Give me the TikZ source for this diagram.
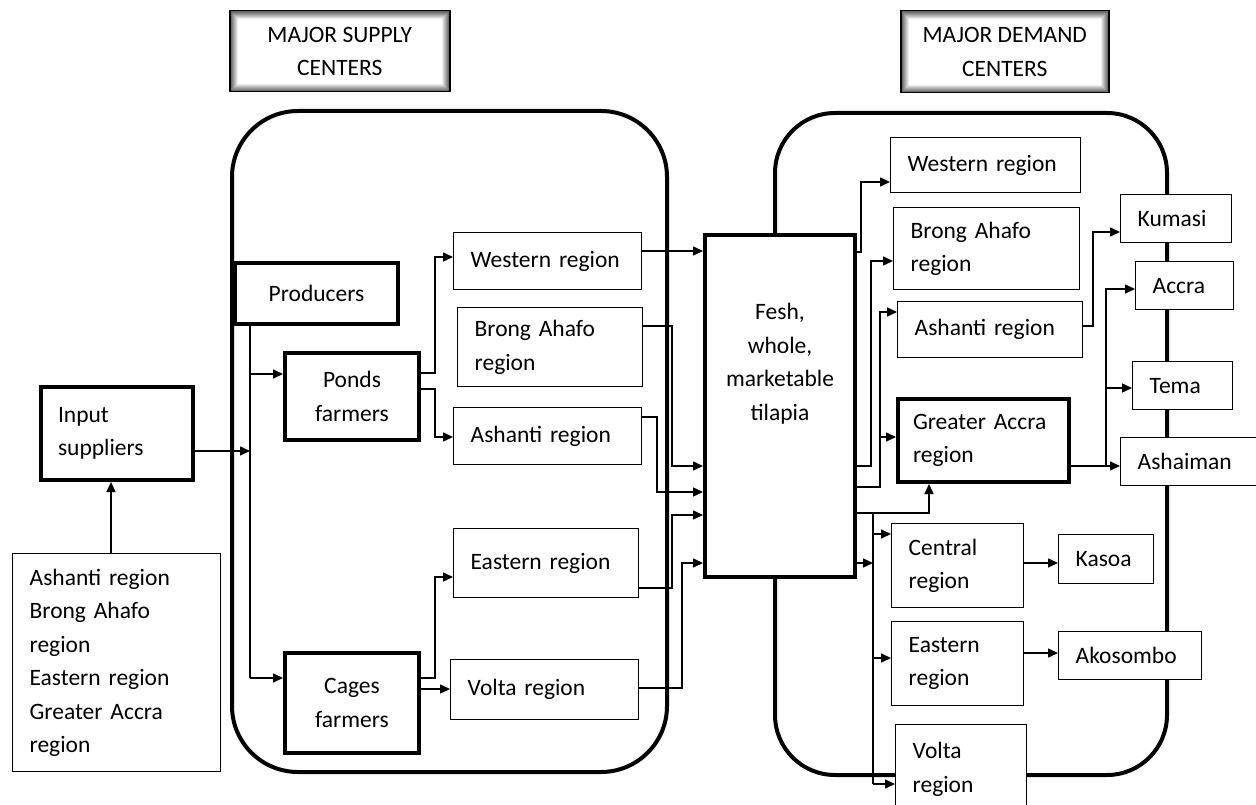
\documentclass[tikz,border=0pt]{standalone}
\usepackage{fontspec}
\setmainfont{Carlito}
\usetikzlibrary{arrows.meta,positioning}

\begin{document}
\begin{tikzpicture}[x=1pt,y=-1pt,>={Triangle[length=10pt,width=9pt]},
    font=\fontsize{23.5}{33.5}\selectfont,
    place/.style={draw,fill=white,line width=1.3pt,anchor=north west,align=left,inner xsep=17pt,inner ysep=0pt},
    actor/.style={place,line width=4pt},
    hub/.style={draw,fill=white,line width=4pt,anchor=north west,align=center,inner sep=0pt},
    frame/.style={line width=4pt,rounded corners=#1},
    header/.style={draw,line width=1.5pt,fill=black!60,anchor=north west,align=center,inner sep=0pt,
      path picture={\foreach \k [evaluate=\k as \gl using 64-8*\k] in {1,...,8}
        \fill[black!\gl] ([xshift=\k pt,yshift=-\k pt]path picture bounding box.north west)
          rectangle ([xshift=-\k pt,yshift=\k pt]path picture bounding box.south east);}},
    link/.style={line width=1.5pt}]
  \path[use as bounding box,fill=white] (0,0) rectangle (1256,805);

  % the two centres
  \draw[frame=66pt] (232,111) rectangle (667,772);
  \draw[frame=60pt] (775,113) rectangle (1167,775);
  \node[header,minimum width=220pt,minimum height=81pt] (supply_hd) at (229,10) {MAJOR SUPPLY\\CENTERS};
  \node[header,minimum width=208pt,minimum height=82pt] (demand_hd) at (900,10) {MAJOR DEMAND\\CENTERS};

  % inputs
  \node[actor,text width=118pt,minimum height=93pt] (in_sup) at (39,385) {Input\\suppliers};
  \node[place,text width=174pt,minimum height=218pt] (src) at (12,553)
    {Ashanti~region\\Brong~Ahafo\\region\\Eastern~region\\Greater~Accra\\region};

  % supply
  \node[hub,minimum width=163pt,minimum height=61pt] (prod) at (233,261) {Producers};
  \node[hub,minimum width=134pt,minimum height=87pt] (ponds) at (283,351) {Ponds\\farmers};
  \node[hub,minimum width=134pt,minimum height=100pt] (cages) at (283,651) {Cages\\farmers};
  \node[place,text width=154pt,minimum height=57pt] (s_west) at (453,232) {Western~region};
  \node[place,text width=151pt,minimum height=79pt] (s_brong) at (457,307) {Brong~Ahafo\\region};
  \node[place,text width=154pt,minimum height=57pt] (s_ashanti) at (453,407) {Ashanti~region};
  \node[place,text width=151pt,minimum height=69pt] (s_east) at (453,528) {Eastern~region};
  \node[place,text width=154pt,minimum height=60pt] (s_volta) at (450,659) {Volta~region};

  % product
  \node[hub,minimum width=150pt,minimum height=342pt] (fresh) at (703,233) {};
  \node[align=center,inner sep=0pt,below=70pt of fresh.north] (fresh_txt) {Fesh,\\whole,\\marketable\\tilapia};

  % demand
  \node[place,text width=156pt,minimum height=55pt] (d_west) at (890,137) {Western~region};
  \node[place,text width=152pt,minimum height=82pt] (d_brong) at (893,207) {Brong~Ahafo\\region};
  \node[place,text width=151pt,minimum height=56pt] (d_ashanti) at (897,301) {Ashanti~region};
  \node[actor,inner xsep=15pt,text width=141pt,minimum height=83pt] (d_accra) at (896,397) {Greater~Accra\\region};
  \node[place,text width=98pt,minimum height=84pt] (d_central) at (891,523) {Central\\region};
  \node[place,text width=98pt,minimum height=84pt] (d_east) at (891,621) {Eastern\\region};
  \node[place,text width=97pt,minimum height=89pt] (d_volta) at (895,724) {Volta\\region};
  \node[place,text width=77pt,minimum height=48pt] (kumasi) at (1120,194) {Kumasi};
  \node[place,text width=64pt,minimum height=48pt] (accra) at (1135,261) {Accra};
  \node[place,text width=66pt,minimum height=48pt] (tema) at (1132,361) {Tema};
  \node[place,text width=116pt,minimum height=48pt] (ashaiman) at (1120,437) {Ashaiman};
  \node[place,text width=61pt,minimum height=49pt] (kasoa) at (1058,534) {Kasoa};
  \node[place,text width=109pt,minimum height=48pt] (akosombo) at (1058,631) {Akosombo};

  \coordinate (p_in) at (250,451);
  \coordinate (p_ponds) at (250,374);
  \coordinate (p_cages) at (250,678);
  \coordinate (d_bus) at (873,513);
  \coordinate (d_split) at (1106,466);

  % into the supply centre
  \draw[link,->] (src.north -| 111,0) -- (in_sup.south -| 111,0);
  \draw[link,->] (in_sup.east |- p_in) -- (p_in);
  \draw[link] (prod.south -| p_in) -- (p_cages);
  \draw[link,->] (p_ponds) -- (ponds.west |- p_ponds);
  \draw[link,->] (p_cages) -- (cages.west |- p_cages);
  \draw[link,->] (ponds.east |- 0,373) -| (435,257) -- (s_west.west |- 0,257);
  \draw[link,->] (ponds.east |- 0,389) -| (435,437) -- (s_ashanti.west |- 0,437);
  \draw[link,->] (cages.east |- 0,678) -| (435,577) -- (s_east.west |- 0,577);
  \draw[link,->] (cages.east |- 0,689) -- (s_volta.west |- 0,689);

  % to the product
  \draw[link,->] (s_west.east |- 0,251) -- (fresh.west |- 0,251);
  \draw[link,->] (s_brong.east |- 0,326) -| (672,466) -- (fresh.west |- 0,466);
  \draw[link,->] (s_ashanti.east |- 0,417) -| (657,492) -- (fresh.west |- 0,492);
  \draw[link,->] (s_east.east |- 0,588) -| (672,515) -- (fresh.west |- 0,515);
  \draw[link,->] (s_volta.east |- 0,688) -| (682,563) -- (fresh.west |- 0,563);

  % out to the demand centre
  \draw[link,->] (fresh.east |- 0,252) -| (861,182) -- (d_west.west |- 0,182);
  \draw[link,->] (fresh.east |- 0,466) -| (871,261) -- (d_brong.west |- 0,261);
  \draw[link,->] (fresh.east |- 0,487) -| (880,312) -- (d_ashanti.west |- 0,312);
  \draw[link,->] (880,437) -- (d_accra.west |- 0,437);
  \draw[link,->] (fresh.east |- d_bus) -| (d_accra.south -| 929,0);
  \draw[link] (d_bus) -- (873,784);
  \draw[link,->] (fresh.east |- 0,563) -- (873,563);
  \draw[link,->] (873,534) -- (d_central.west |- 0,534);
  \draw[link,->] (873,658) -- (d_east.west |- 0,658);
  \draw[link,->] (873,784) -- (d_volta.west |- 0,784);
  \draw[link,->] (d_central.east |- 0,563) -- (kasoa.west |- 0,563);
  \draw[link,->] (d_east.east |- 0,653) -- (akosombo.west |- 0,653);
  \draw[link,->] (d_ashanti.east |- 0,326) -| (1093,232) -- (kumasi.west |- 0,232);
  \draw[link,->] (d_accra.east |- d_split) -- (ashaiman.west |- d_split);
  \draw[link,->] (d_split) |- (accra.west |- 0,289);
  \draw[link,->] (d_split |- 0,388) -- (tema.west |- 0,388);
\end{tikzpicture}
\end{document}
